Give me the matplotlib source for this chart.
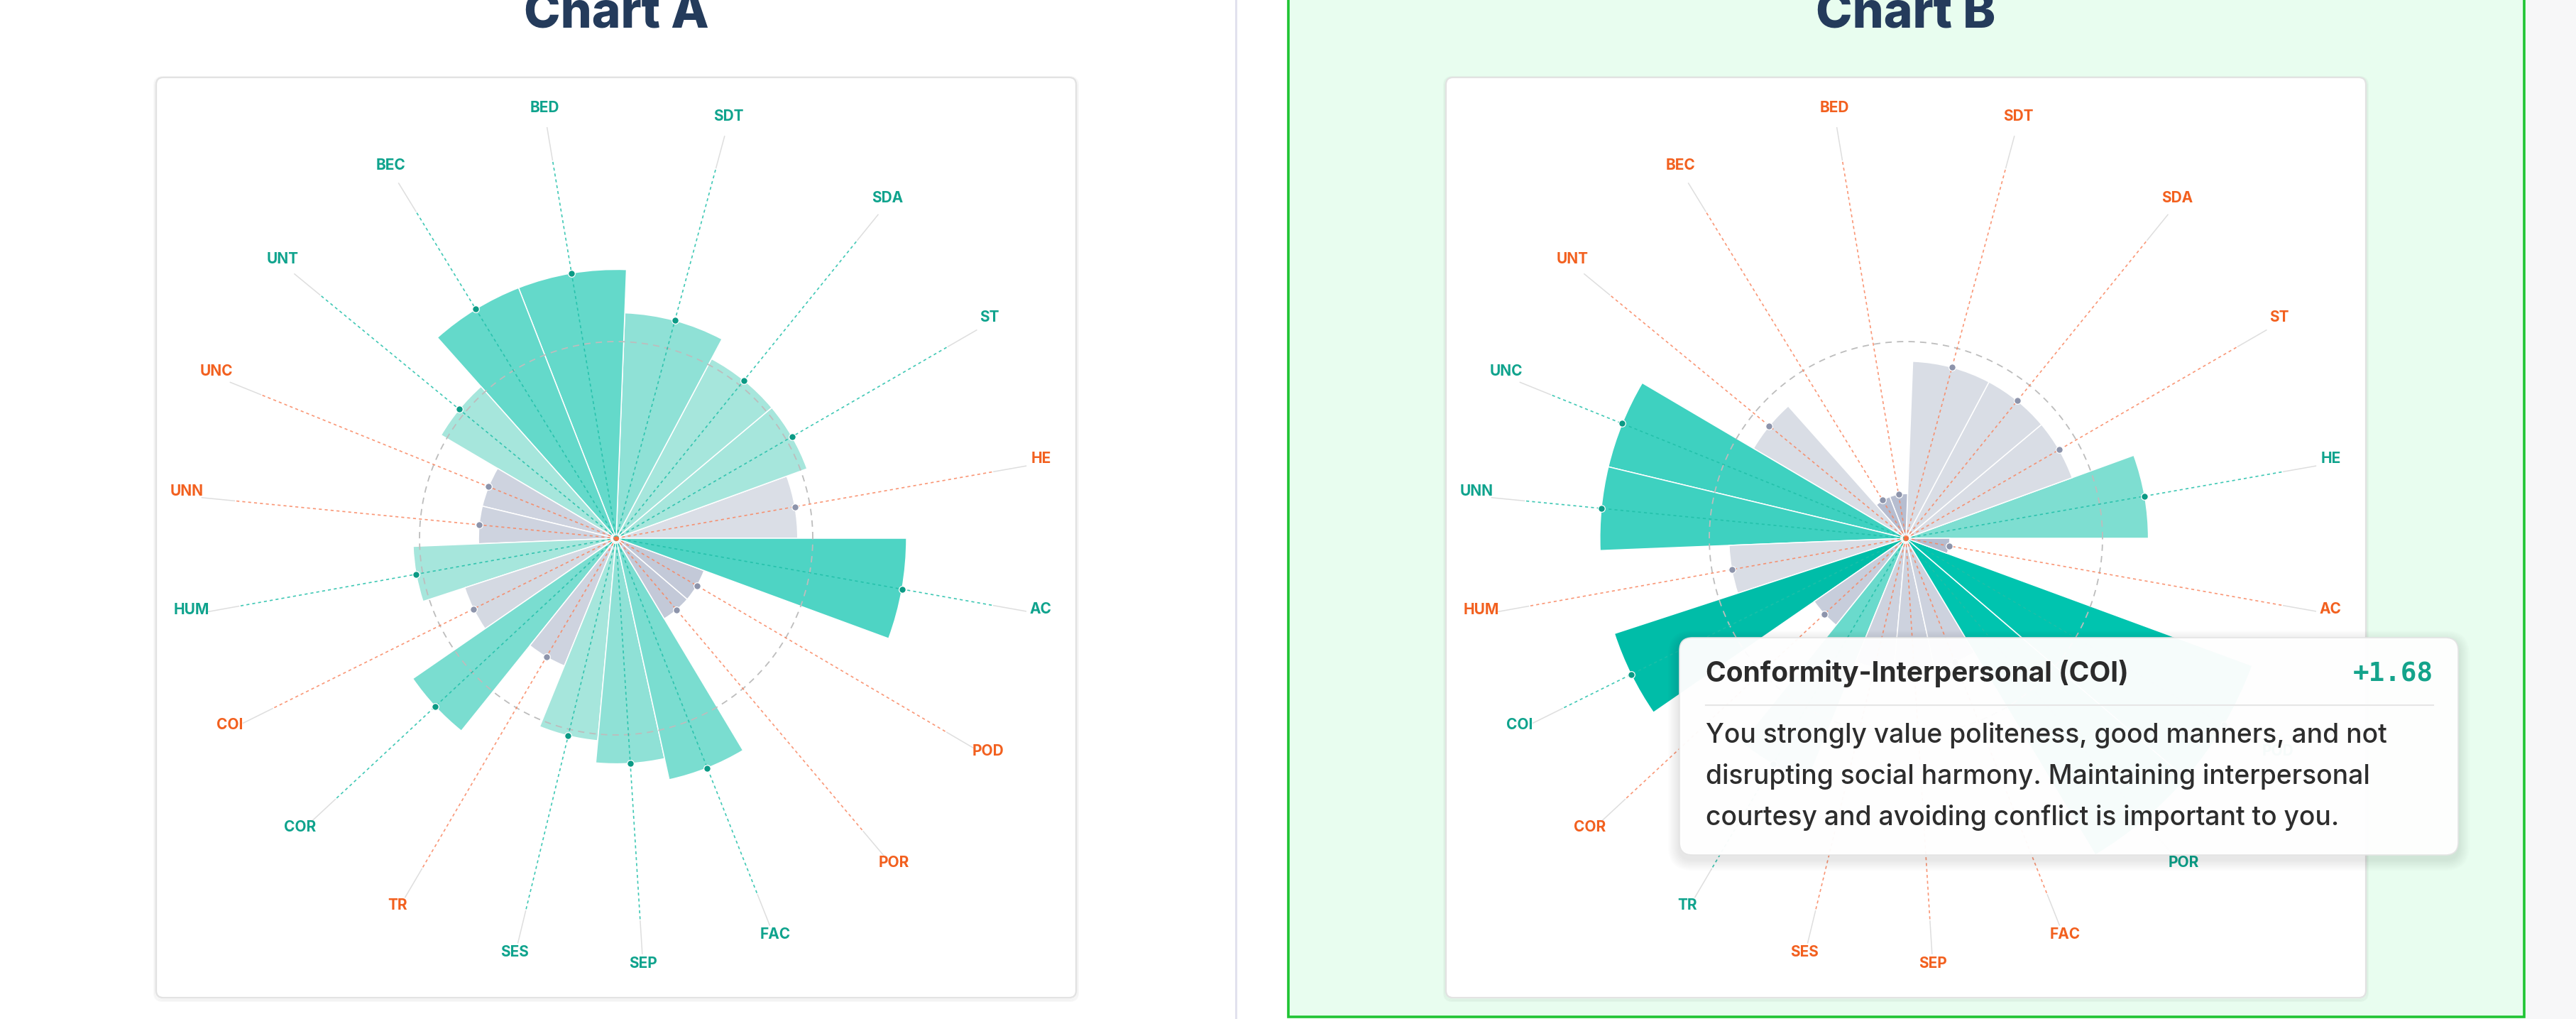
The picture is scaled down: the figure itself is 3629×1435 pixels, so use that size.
import numpy as np
import matplotlib.pyplot as plt
from matplotlib.patches import FancyBboxPatch, Rectangle
from matplotlib.transforms import offset_copy

W, H, DPI = 3630, 1435, 100

# sectors counter-clockwise starting at 3 o'clock
categories = ['HE', 'ST', 'SDA', 'SDT', 'BED', 'BEC', 'UNT', 'UNC', 'UNN', 'HUM',
              'COI', 'COR', 'TR', 'SES', 'SEP', 'FAC', 'POR', 'POD', 'AC']
sector_widths = [20, 20, 22, 25.8, 23.5, 20.4, 17.8, 17, 15.8, 15.8,
                 16.5, 16.6, 16.7, 16.9, 17.6, 18.5, 18.5, 20.4, 20.2]
scores_a = [-0.23, 0.10, 0.10, 0.44, 1.10, 1.10, 0.10, -0.90, -0.90, 0.10,
            -0.57, 0.77, -0.90, 0.10, 0.44, 0.77, -1.57, -1.57, 1.43]
scores_b = [0.70, -0.30, -0.30, -0.30, -2.32, -2.32, -0.30, 1.67, 1.67, -0.30,
            1.68, -1.30, 1.00, -0.97, -0.97, -0.97, 2.63, 2.63, -2.33]
hovered_b = 'COI'

tooltip_title = 'Conformity-Interpersonal (COI)'
tooltip_value = '+1.68'
tooltip_lines = ['You strongly value politeness, good manners, and not',
                 'disrupting social harmony. Maintaining interpersonal',
                 'courtesy and avoiding conflict is important to you.']

TEAL_TXT = '#0fa38d'
ORANGE_TXT = '#f2601f'
FONT = ['Inter', 'DejaVu Sans']


def bar_color(v):
    if v >= 0:
        r = 166 - 66.4 * (v - 0.1)
        g = 230 - 13.4 * (v - 0.1)
        b = 220 - 17.9 * (v - 0.1)
    else:
        r = 218 + 17.3 * (v + 0.23)
        g = 222 + 15.8 * (v + 0.23)
        b = 230 + 10.5 * (v + 0.23)
    return tuple(min(max(c, 0), 255) / 255 for c in (r, g, b))


fig = plt.figure(figsize=(W / DPI, H / DPI), dpi=DPI)

# background: panels, cards, titles
bg = fig.add_axes([0, 0, 1, 1], zorder=-5)
bg.set_xlim(0, W)
bg.set_ylim(H, 0)
bg.axis('off')
bg.add_patch(Rectangle((1815, -20), 1741, 1452, facecolor='#e8fdef',
                       edgecolor='#1fc433', lw=2.6))
bg.add_patch(Rectangle((3558, -20), 80, 1480, facecolor='#f7f7f8', edgecolor='none'))
bg.plot([1741, 1741], [0, H], color='#e2e2ee', lw=2.2)
for x0 in (220, 2037):
    for k in range(4):
        bg.add_patch(FancyBboxPatch((x0 - k, 109 - k + 2), 1296 + 2 * k, 1296 + 2 * k,
                                    boxstyle='round,pad=0,rounding_size=12',
                                    facecolor='none', edgecolor='#000000',
                                    alpha=0.025, lw=1.5))
    bg.add_patch(FancyBboxPatch((x0, 109), 1296, 1296,
                                boxstyle='round,pad=0,rounding_size=10',
                                facecolor='white', edgecolor='#e2e2e2', lw=1.6))
for cx, t in ((868, 'Chart A'), (2685, 'Chart B')):
    bg.text(cx, 39, t, ha='center', va='baseline', fontsize=50,
            fontweight='heavy', color='#243b5b', family=FONT)

R_PX = 648          # polar axes radius in pixels
UNIT = 92.33        # pixels per score unit, score -3 sits at the centre
theta_edges = np.deg2rad(np.concatenate([[0], np.cumsum(sector_widths)]))
theta_mid = (theta_edges[:-1] + theta_edges[1:]) / 2
widths = np.diff(theta_edges)


def rose(cx, cy, scores, hovered=None):
    ax = fig.add_axes([(cx - R_PX) / W, (H - cy - R_PX) / H, 2 * R_PX / W, 2 * R_PX / H],
                      projection='polar', zorder=1)
    ax.set_ylim(-3, -3 + R_PX / UNIT)
    ax.axis('off')
    ax.patch.set_alpha(0)
    v = np.array(scores)
    cols = [bar_color(s) for s in v]
    if hovered is not None:
        cols[categories.index(hovered)] = '#00bda8'
    ax.bar(theta_mid, v + 3, width=widths, bottom=-3, color=cols,
           edgecolor='white', lw=1.1, zorder=2)
    ring = np.linspace(0, 2 * np.pi, 400)
    ax.plot(ring, np.zeros_like(ring), color='#bdbdbd', lw=1.3,
            ls=(0, (5, 4)), zorder=3)
    lift = offset_copy(ax.transData, fig=fig, y=7, units='dots')
    for t, s, name in zip(theta_mid, v, categories):
        pos = s >= 0
        lc = '#1fbfa8' if pos else '#f9855f'
        ax.plot([t, t], [-3, 2.85], color=lc, lw=1.2, ls=(0, (2.5, 2.5)),
                alpha=0.85, zorder=4)
        ax.plot([t, t], [2.85, 3.35], color='#dedede', lw=1.1, zorder=4)
        ax.scatter([t], [s], s=48, color='#0b9a85' if pos else '#8d94ab',
                   edgecolors='white', linewidths=0.9, zorder=5)
        ax.text(t, 3.58, name, ha='center', va='center', fontsize=15,
                fontweight='bold', color=TEAL_TXT if pos else ORANGE_TXT,
                family=FONT, zorder=6, transform=lift)
    ax.scatter([0], [-3], s=14, color='#f97040', zorder=6)
    return ax


rose(868, 758, scores_a)
rose(2685, 758, scores_b, hovered_b)

# tooltip over chart B
tip = fig.add_axes([0, 0, 1, 1], zorder=10)
tip.set_xlim(0, W)
tip.set_ylim(H, 0)
tip.axis('off')
tip.patch.set_alpha(0)
x0, y0, tw, th = 2366, 898, 1097, 306
for k in range(1, 9):
    tip.add_patch(FancyBboxPatch((x0 - 2 * k, y0 - 2 * k + 6), tw + 4 * k, th + 4 * k,
                                 boxstyle='round,pad=0,rounding_size=%d' % (18 + 2 * k),
                                 facecolor='#000000', edgecolor='none', alpha=0.012))
tip.add_patch(FancyBboxPatch((x0, y0), tw, th, boxstyle='round,pad=0,rounding_size=18',
                             facecolor='white', edgecolor='#e4e4e4', lw=1.2, alpha=0.97))
tip.text(2403, 949, tooltip_title, ha='left', va='center', fontsize=28,
         fontweight='bold', color='#2b2b2b', family=FONT)
tip.text(3428, 949, tooltip_value, ha='right', va='center', fontsize=27,
         fontweight='bold', color='#14a38b', family='DejaVu Sans Mono')
tip.plot([2403, 3428], [993, 993], color='#e6e6e6', lw=1.5)
for i, line in enumerate(tooltip_lines):
    tip.text(2403, 1035 + 58 * i, line, ha='left', va='center', fontsize=26.8,
             fontweight='medium', color='#2d2d2d', family=FONT)

fig.savefig('out.png', dpi=DPI)
